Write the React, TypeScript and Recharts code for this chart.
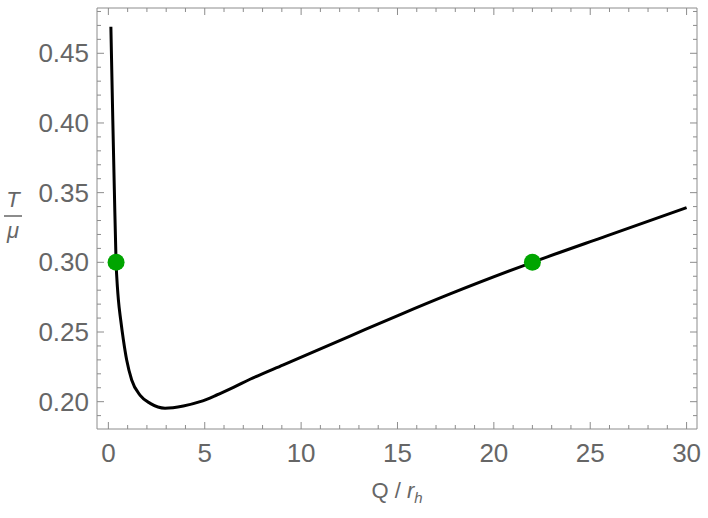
import { ComposedChart, Line, Scatter, XAxis, YAxis } from "recharts";

// curve (Q / r_h, T / mu)
const qValues = [
  0.13, 0.23, 0.31, 0.4, 0.47, 0.52, 0.64, 0.78, 0.95, 1.21, 1.65, 2.17, 2.94,
  3.89, 4.76, 5.62, 6.49, 7.35, 9.08, 9.95, 12.54, 15.14, 17.73, 22, 25.86, 30,
];
const tValues = [
  0.469, 0.402, 0.352, 0.3, 0.282, 0.273, 0.2586, 0.2443, 0.2299, 0.2156,
  0.2045, 0.1988, 0.1953, 0.1969, 0.2, 0.2048, 0.2103, 0.2161, 0.2265, 0.2317,
  0.2471, 0.2625, 0.2773, 0.3, 0.319, 0.3392,
];

const markerQ = [0.4, 22];
const markerT = [0.3, 0.3];

const xTicks = Array.from({ length: 31 }, (_, i) => i);
const yTicks = Array.from({ length: 30 }, (_, i) => (i + 19) / 100);

const curve = qValues.map((q, i) => ({ q, t: tValues[i] }));
const markers = markerQ.map((q, i) => ({ q, t: markerT[i] }));

const FRAME = "#8c8c8c";
const TEXT = "#666666";
const FONT = "'Liberation Sans', Arial, sans-serif";

function BottomTick({ x, y, payload }: any) {
  const major = payload.value % 5 === 0;
  return (
    <g>
      <line x1={x} x2={x} y1={y} y2={y - (major ? 7 : 4)} stroke={FRAME} />
      {major && (
        <text x={x} y={y + 33} textAnchor="middle" fill={TEXT} fontSize={26} fontFamily={FONT}>
          {payload.value}
        </text>
      )}
    </g>
  );
}

function TopTick({ x, y, payload }: any) {
  const major = payload.value % 5 === 0;
  return <line x1={x} x2={x} y1={y} y2={y + (major ? 7 : 4)} stroke={FRAME} />;
}

function LeftTick({ x, y, payload }: any) {
  const major = Math.round(payload.value * 100) % 5 === 0;
  return (
    <g>
      <line x1={x} x2={x + (major ? 7 : 4)} y1={y} y2={y} stroke={FRAME} />
      {major && (
        <text x={x - 8} y={y + 9} textAnchor="end" fill={TEXT} fontSize={26} fontFamily={FONT}>
          {payload.value.toFixed(2)}
        </text>
      )}
    </g>
  );
}

function RightTick({ x, y, payload }: any) {
  const major = Math.round(payload.value * 100) % 5 === 0;
  return <line x1={x} x2={x - (major ? 7 : 4)} y1={y} y2={y} stroke={FRAME} />;
}

function XLabel({ viewBox }: any) {
  const cx = viewBox.x + viewBox.width / 2;
  return (
    <text x={cx} y={498} textAnchor="middle" fill={TEXT} fontSize={22} fontFamily={FONT}>
      Q / <tspan fontStyle="italic">r</tspan>
      <tspan fontStyle="italic" fontSize={15} dy={5}>h</tspan>
    </text>
  );
}

function YLabel() {
  return (
    <g fill={TEXT} fontFamily={FONT}>
      <text x={13} y={207} textAnchor="middle" fontSize={22} fontStyle="italic">T</text>
      <line x1={4} x2={22} y1={216} y2={216} stroke={TEXT} strokeWidth={1.5} />
      <text x={13} y={238} textAnchor="middle" fontSize={22} fontStyle="italic">μ</text>
    </g>
  );
}

export default function App() {
  return (
    <div style={{ position: "absolute", left: 0, top: 0, background: "#fff" }}>
      <ComposedChart width={708} height={518} margin={{ top: 0, right: 0, bottom: 0, left: 0 }}>
        <XAxis
          xAxisId="b"
          dataKey="q"
          type="number"
          domain={[-0.59, 30.54]}
          allowDataOverflow
          ticks={xTicks}
          interval={0}
          tick={<BottomTick />}
          tickLine={false}
          tickSize={0}
          tickMargin={0}
          height={89}
          stroke={FRAME}
          label={<XLabel />}
        />
        <XAxis
          xAxisId="t"
          orientation="top"
          dataKey="q"
          type="number"
          domain={[-0.59, 30.54]}
          allowDataOverflow
          ticks={xTicks}
          interval={0}
          tick={<TopTick />}
          tickLine={false}
          tickSize={0}
          tickMargin={0}
          height={8}
          stroke={FRAME}
        />
        <YAxis
          yAxisId="l"
          dataKey="t"
          type="number"
          domain={[0.1804, 0.4825]}
          allowDataOverflow
          ticks={yTicks}
          interval={0}
          tick={<LeftTick />}
          tickLine={false}
          tickSize={0}
          tickMargin={0}
          width={97}
          stroke={FRAME}
          label={<YLabel />}
        />
        <YAxis
          yAxisId="r"
          orientation="right"
          dataKey="t"
          type="number"
          domain={[0.1804, 0.4825]}
          allowDataOverflow
          ticks={yTicks}
          interval={0}
          tick={<RightTick />}
          tickLine={false}
          tickSize={0}
          tickMargin={0}
          width={11}
          stroke={FRAME}
        />
        <Line
          xAxisId="b"
          yAxisId="l"
          data={curve}
          dataKey="t"
          type="monotone"
          stroke="#000"
          strokeWidth={3}
          dot={false}
          isAnimationActive={false}
        />
        <Scatter
          xAxisId="b"
          yAxisId="l"
          data={markers}
          dataKey="t"
          fill="#00a500"
          shape={(p: any) => <circle cx={p.cx} cy={p.cy} r={8.5} fill="#00a500" />}
          isAnimationActive={false}
        />
      </ComposedChart>
    </div>
  );
}
